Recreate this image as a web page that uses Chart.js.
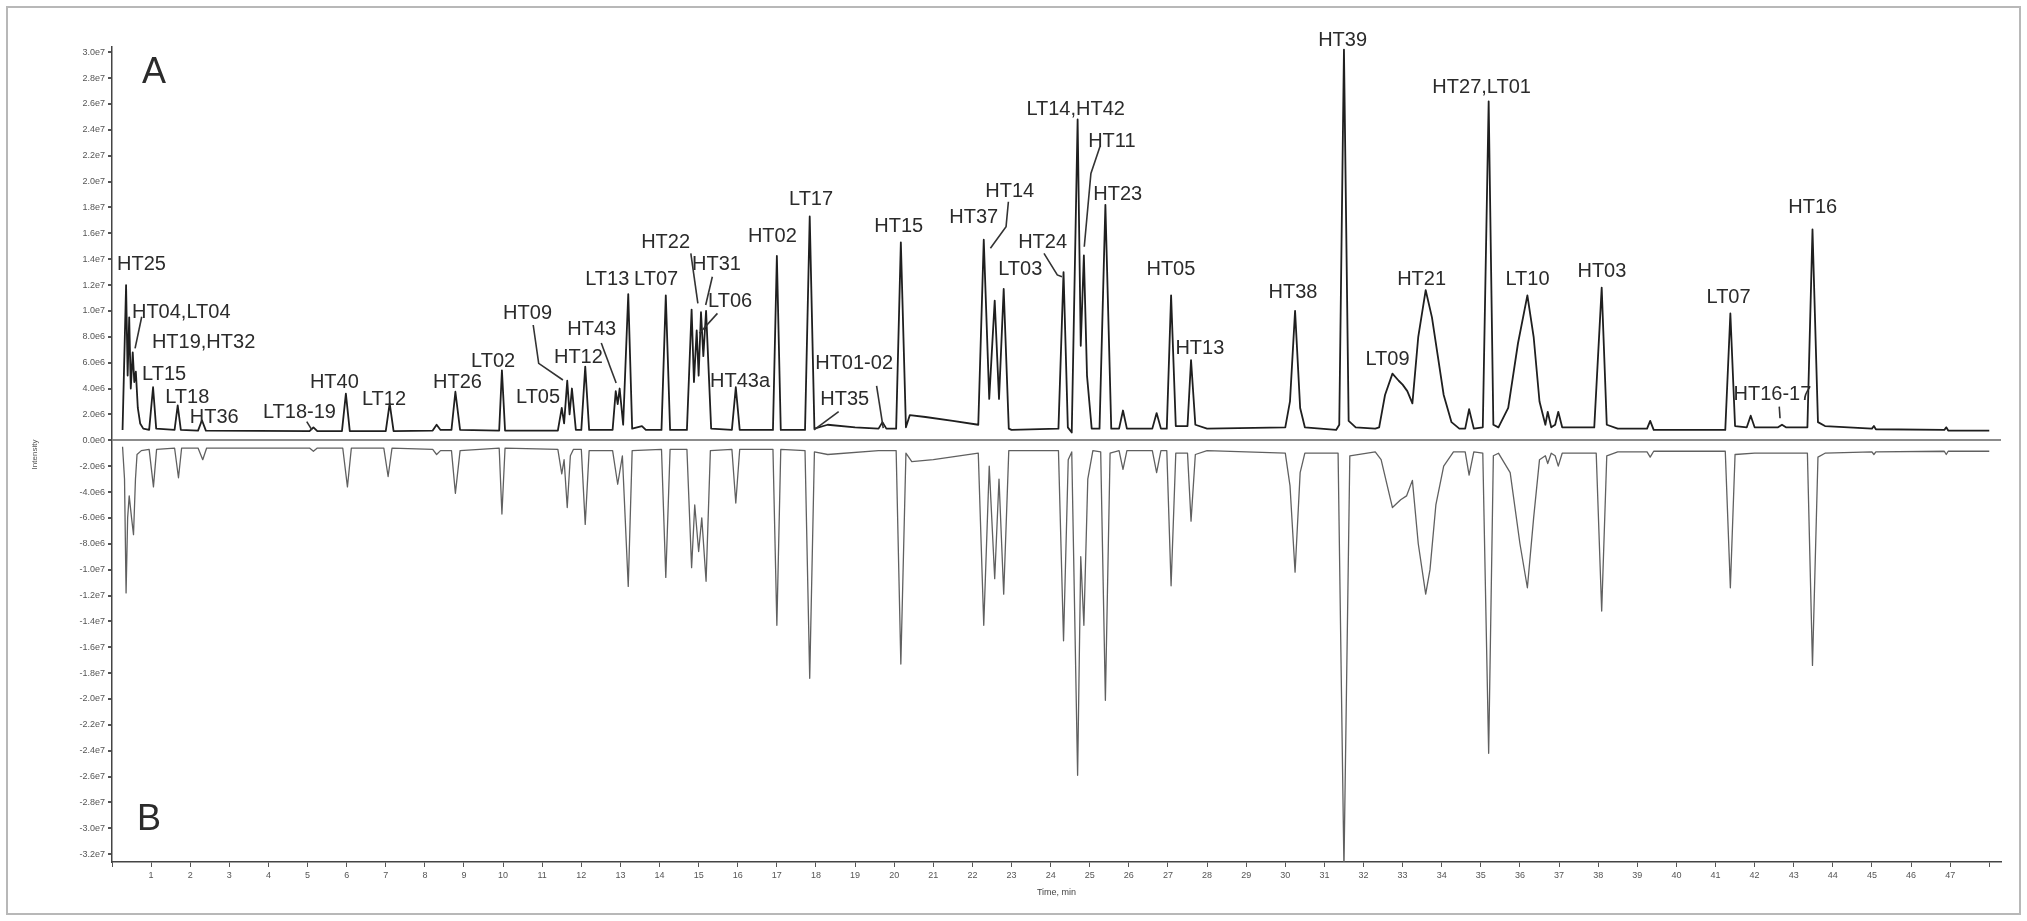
<!DOCTYPE html>
<html>
<head>
<meta charset="utf-8">
<script src="https://cdn.jsdelivr.net/npm/chart.js@4.4.1/dist/chart.umd.min.js"></script>
<style>
  html, body { margin: 0; padding: 0; background: #fff; }
  #wrap { position: relative; width: 2027px; height: 921px; }
</style>
</head>
<body>
<div id="wrap"><canvas id="chrom"></canvas></div>
<script>
// Time in minutes, intensity in units of 1e6 counts
// Trace A (upper)
var traceA = [
  [0.27, 0.8], [0.36, 12.0], [0.40, 5.0], [0.44, 9.5], [0.48, 4.0], [0.53, 6.8], [0.57, 4.5],
  [0.61, 5.3], [0.66, 2.5], [0.72, 1.3], [0.80, 0.9],
  [0.95, 0.8], [1.05, 4.1], [1.13, 0.9], [1.60, 0.8], [1.68, 2.7], [1.76, 0.8],
  [2.20, 0.75], [2.30, 1.55], [2.40, 0.75], [5.05, 0.7], [5.15, 1.0], [5.25, 0.7],
  [5.88, 0.7], [5.98, 3.6], [6.08, 0.7], [7.0, 0.7], [7.1, 2.85], [7.2, 0.7],
  [8.2, 0.75], [8.3, 1.2], [8.4, 0.8], [8.68, 0.8], [8.78, 3.75], [8.9, 0.8],
  [9.9, 0.75], [9.97, 5.4], [10.05, 0.75],
  [11.4, 0.75], [11.5, 2.5], [11.56, 1.3], [11.64, 4.6], [11.7, 2.0], [11.76, 4.0], [11.86, 0.8],
  [12.0, 0.8], [12.1, 5.7], [12.2, 0.8],
  [12.8, 0.8], [12.88, 3.8], [12.93, 2.8], [12.98, 4.0], [13.07, 1.2], [13.2, 11.3], [13.3, 0.9],
  [13.55, 1.1], [13.65, 0.8],
  [14.05, 0.8], [14.16, 11.2], [14.27, 0.8],
  [14.7, 0.8], [14.82, 10.1], [14.88, 4.5], [14.95, 8.5], [15.0, 5.0], [15.06, 9.9], [15.12, 6.5],
  [15.19, 10.0], [15.32, 0.9],
  [15.85, 0.8], [15.95, 4.1], [16.05, 0.8],
  [16.9, 0.8], [17.0, 14.25], [17.1, 0.8],
  [17.72, 0.8], [17.84, 17.3], [17.96, 0.9],
  [18.3, 1.2], [19.0, 1.0], [19.6, 0.9], [19.7, 1.4], [19.8, 0.9],
  [20.05, 0.9], [20.17, 15.3], [20.3, 1.0], [20.4, 1.95], [20.8, 1.8], [21.5, 1.5], [22.15, 1.2],
  [22.29, 15.5], [22.43, 3.2], [22.57, 10.8], [22.68, 3.2], [22.8, 11.7], [22.93, 0.9],
  [23.0, 0.8], [24.2, 0.9], [24.33, 13.0], [24.44, 1.0], [24.54, 0.6],
  [24.69, 24.8], [24.77, 7.3], [24.85, 14.3], [24.93, 5.0], [25.05, 0.9],
  [25.25, 0.9], [25.4, 18.2], [25.55, 0.9],
  [25.75, 0.9], [25.85, 2.3], [25.95, 0.9], [26.6, 0.9], [26.71, 2.1], [26.82, 0.9],
  [26.97, 0.9], [27.08, 11.2], [27.2, 1.1], [27.5, 1.1], [27.59, 6.2], [27.7, 1.2],
  [28.0, 0.9], [30.0, 1.0], [30.12, 3.0], [30.25, 10.0], [30.38, 2.5], [30.5, 1.0],
  [31.3, 0.8], [31.38, 1.2], [31.5, 30.2], [31.62, 1.5], [31.8, 1.0], [32.3, 0.9],
  [32.4, 1.0], [32.55, 3.5], [32.74, 5.15], [32.9, 4.6], [33.0, 4.3], [33.12, 3.8], [33.25, 2.85],
  [33.4, 8.0], [33.59, 11.6], [33.75, 9.5], [33.9, 6.5], [34.05, 3.5], [34.25, 1.4], [34.45, 0.9],
  [34.6, 0.9], [34.7, 2.4], [34.82, 0.9], [35.05, 1.0], [35.2, 26.2], [35.32, 1.2],
  [35.45, 1.0], [35.7, 2.5], [35.95, 7.5], [36.19, 11.2], [36.35, 8.0], [36.5, 3.0], [36.65, 1.2],
  [36.71, 2.2], [36.8, 1.0], [36.9, 1.2], [36.98, 2.2], [37.08, 1.0],
  [37.9, 1.0], [38.09, 11.8], [38.22, 1.2], [38.5, 0.9],
  [39.25, 0.9], [39.33, 1.5], [39.42, 0.8],
  [41.25, 0.8], [41.38, 9.8], [41.5, 1.1], [41.8, 1.0], [41.9, 1.9], [42.0, 1.0],
  [42.6, 1.0], [42.7, 1.2], [42.8, 1.0],
  [43.35, 1.0], [43.48, 16.3], [43.62, 1.4], [43.8, 1.1],
  [45.0, 0.9], [45.05, 1.1], [45.1, 0.85], [46.85, 0.8], [46.9, 1.0], [46.95, 0.75], [48.0, 0.75]
];

// Trace B (lower, mirrored)
var traceB = [
  [0.27, -0.5], [0.32, -3.0], [0.36, -11.8], [0.40, -6.0], [0.44, -4.3], [0.50, -6.0], [0.55, -7.3],
  [0.60, -3.0], [0.64, -1.1], [0.75, -0.8],
  [0.95, -0.7], [1.06, -3.6], [1.14, -0.7], [1.6, -0.6], [1.7, -2.9], [1.78, -0.6],
  [2.2, -0.6], [2.32, -1.5], [2.42, -0.6], [5.05, -0.6], [5.15, -0.85], [5.25, -0.6],
  [5.9, -0.6], [6.02, -3.6], [6.12, -0.6], [6.95, -0.6], [7.06, -2.8], [7.16, -0.6],
  [8.2, -0.7], [8.3, -1.1], [8.4, -0.8], [8.68, -0.8], [8.78, -4.1], [8.9, -0.8],
  [9.9, -0.6], [9.97, -5.7], [10.05, -0.6],
  [11.4, -0.7], [11.5, -2.6], [11.56, -1.5], [11.64, -5.2], [11.72, -1.2], [11.8, -0.7],
  [12.0, -0.7], [12.1, -6.5], [12.2, -0.8],
  [12.8, -0.8], [12.93, -3.4], [13.05, -1.2], [13.2, -11.3], [13.3, -0.8],
  [14.05, -0.7], [14.16, -10.6], [14.27, -0.7],
  [14.7, -0.7], [14.82, -9.85], [14.9, -5.0], [15.0, -8.6], [15.08, -6.0], [15.19, -10.9], [15.3, -0.8],
  [15.85, -0.7], [15.95, -4.85], [16.05, -0.7],
  [16.9, -0.7], [17.0, -14.3], [17.1, -0.7],
  [17.72, -0.8], [17.84, -18.4], [17.96, -0.9], [18.3, -1.1], [19.6, -0.8],
  [20.05, -0.8], [20.17, -17.3], [20.3, -1.0], [20.45, -1.65], [21.0, -1.5], [22.15, -1.0],
  [22.29, -14.3], [22.43, -2.0], [22.57, -10.7], [22.68, -3.0], [22.8, -11.9], [22.93, -0.8],
  [24.2, -0.8], [24.33, -15.5], [24.45, -1.5], [24.54, -0.9],
  [24.69, -25.9], [24.77, -9.0], [24.85, -14.3], [24.95, -3.0], [25.08, -0.8],
  [25.28, -0.9], [25.4, -20.1], [25.52, -1.0],
  [25.75, -0.8], [25.85, -2.25], [25.95, -0.8], [26.6, -0.8], [26.71, -2.5], [26.82, -0.8],
  [26.97, -0.8], [27.08, -11.25], [27.2, -1.0], [27.5, -1.0], [27.59, -6.25], [27.7, -1.1],
  [28.0, -0.8], [30.0, -1.0], [30.12, -3.5], [30.25, -10.2], [30.38, -2.5], [30.5, -1.0],
  [31.35, -1.0], [31.5, -33.0], [31.65, -1.2], [32.3, -0.9],
  [32.45, -1.5], [32.74, -5.2], [32.95, -4.6], [33.1, -4.3], [33.25, -3.1],
  [33.4, -8.0], [33.59, -11.9], [33.7, -10.0], [33.85, -5.0], [34.05, -2.0], [34.3, -0.9],
  [34.6, -0.9], [34.7, -2.7], [34.82, -0.9], [35.05, -1.0], [35.2, -24.2], [35.32, -1.2],
  [35.45, -1.0], [35.75, -2.5], [36.0, -8.0], [36.19, -11.4], [36.35, -6.0], [36.5, -1.5],
  [36.65, -1.2], [36.71, -1.8], [36.8, -1.0], [36.9, -1.2], [36.98, -2.0], [37.08, -1.0],
  [37.95, -1.0], [38.09, -13.2], [38.22, -1.2], [38.5, -0.9],
  [39.25, -0.9], [39.33, -1.3], [39.42, -0.85],
  [41.25, -0.85], [41.38, -11.4], [41.5, -1.1], [42.0, -1.0],
  [43.35, -1.0], [43.48, -17.4], [43.62, -1.3], [43.8, -1.0],
  [45.0, -0.9], [45.05, -1.1], [45.1, -0.9], [46.85, -0.85], [46.9, -1.1], [46.95, -0.85], [48.0, -0.85]
];

// Peak names and where their text sits (time, intensity of the left baseline)
var peakNames = ['HT25', 'HT04,LT04', 'HT19,HT32', 'LT15', 'LT18', 'HT36', 'LT18-19', 'HT40', 'LT12',
  'HT26', 'LT02', 'HT09', 'LT05', 'HT12', 'HT43', 'LT13', 'LT07', 'HT22', 'HT31', 'LT06', 'HT43a',
  'HT02', 'LT17', 'HT01-02', 'HT35', 'HT15', 'HT37', 'HT14', 'HT24', 'LT03', 'LT14,HT42', 'HT11',
  'HT23', 'HT05', 'HT13', 'HT38', 'HT39', 'LT09', 'HT21', 'HT27,LT01', 'LT10', 'HT03', 'LT07',
  'HT16-17', 'HT16'];
var nameTimes = [0.13, 0.51, 1.02, 0.77, 1.36, 1.99, 3.86, 5.06, 6.39,
  8.21, 9.18, 10.0, 10.33, 11.3, 11.64, 12.1, 13.35, 13.53, 14.83, 15.24, 15.29,
  16.26, 17.31, 17.98, 18.11, 19.49, 21.41, 22.33, 23.17, 22.66, 23.38, 24.96,
  25.09, 26.45, 27.19, 29.57, 30.84, 32.05, 32.86, 33.76, 35.63, 37.47, 40.77,
  41.46, 42.86];
var nameLevels = [13.17, 9.45, 7.13, 4.66, 2.88, 1.33, 1.72, 4.04, 2.73,
  4.04, 5.66, 9.37, 2.88, 5.97, 8.14, 12.0, 12.0, 14.86, 13.17, 10.3, 4.12,
  15.32, 18.18, 5.5, 2.73, 16.1, 16.8, 18.8, 14.86, 12.78, 25.14, 22.67,
  18.57, 12.78, 6.67, 11.0, 30.5, 5.82, 12.0, 26.84, 12.0, 12.62, 10.6,
  3.12, 17.57];

// Leader lines from a name to its peak (time, intensity)
var leaders = [
  [[0.76, 9.55], [0.59, 7.11]],
  [[4.98, 1.44], [5.11, 0.8]],
  [[10.77, 8.91], [10.91, 5.95], [11.53, 4.66]],
  [[12.51, 7.52], [12.89, 4.43]],
  [[14.8, 14.45], [14.98, 10.59]],
  [[15.35, 12.64], [15.18, 10.46]],
  [[15.48, 9.81], [15.02, 8.27]],
  [[19.55, 4.2], [19.72, 0.93]],
  [[18.58, 2.21], [17.95, 0.8]],
  [[22.92, 18.44], [22.86, 16.5], [22.46, 14.84]],
  [[23.83, 14.45], [24.17, 12.78], [24.29, 12.64]],
  [[25.26, 22.69], [25.03, 20.63], [24.86, 14.96]],
  [[42.63, 2.6], [42.65, 1.7]]
];

// Panel letters
var panelNames = ['A', 'B'];
var panelTimes = [0.77, 0.64];
var panelLevels = [27.6, -30.1];

function sciLabel(v) {
  var r = Math.round(v * 10) / 10;
  return (r * 1e6).toExponential(1).replace('e+', 'e');
}

var annotate = {
  id: 'annotate',
  beforeDraw: function(chart) {
    var ctx = chart.ctx;
    ctx.save();
    ctx.fillStyle = '#fff';
    ctx.fillRect(0, 0, chart.width, chart.height);
    ctx.strokeStyle = '#b8b8b8';
    ctx.lineWidth = 2;
    ctx.strokeRect(7, 7, chart.width - 14, chart.height - 14);
    ctx.restore();
  },
  afterDatasetsDraw: function(chart) {
    var ctx = chart.ctx, xs = chart.scales.x, ys = chart.scales.y;
    ctx.save();
    ctx.strokeStyle = '#333';
    ctx.lineWidth = 1.6;
    leaders.forEach(function(path) {
      ctx.beginPath();
      path.forEach(function(p, i) {
        var px = xs.getPixelForValue(p[0]), py = ys.getPixelForValue(p[1]);
        if (i) ctx.lineTo(px, py); else ctx.moveTo(px, py);
      });
      ctx.stroke();
    });
    ctx.fillStyle = '#2b2b2b';
    ctx.textAlign = 'left';
    ctx.textBaseline = 'alphabetic';
    ctx.font = '20px "Liberation Sans", Arial, sans-serif';
    peakNames.forEach(function(name, i) {
      ctx.fillText(name, xs.getPixelForValue(nameTimes[i]), ys.getPixelForValue(nameLevels[i]));
    });
    ctx.font = '36px "Liberation Sans", Arial, sans-serif';
    panelNames.forEach(function(name, i) {
      ctx.fillText(name, xs.getPixelForValue(panelTimes[i]), ys.getPixelForValue(panelLevels[i]));
    });
    ctx.restore();
  }
};

var tickFont = { family: '"Liberation Sans", Arial, sans-serif', size: 9 };

new Chart(document.getElementById('chrom'), {
  type: 'line',
  data: {
    datasets: [{
      label: 'A',
      data: traceA.map(function(p) { return { x: p[0], y: p[1] }; }),
      borderColor: '#1f1f1f',
      borderWidth: 1.8,
      borderJoinStyle: 'round',
      pointRadius: 0,
      tension: 0,
      fill: false
    }, {
      label: 'B',
      data: traceB.map(function(p) { return { x: p[0], y: p[1] }; }),
      borderColor: '#606060',
      borderWidth: 1.3,
      borderJoinStyle: 'round',
      pointRadius: 0,
      tension: 0,
      fill: false
    }]
  },
  options: {
    responsive: true,
    maintainAspectRatio: false,
    animation: false,
    layout: { padding: { left: 0, right: 26, top: 47, bottom: 0 } },
    plugins: { legend: { display: false }, tooltip: { enabled: false } },
    scales: {
      x: {
        type: 'linear',
        min: 0,
        max: 48.3,
        afterFit: function(s) { s.height = 59; },
        border: { display: true, color: '#444', width: 1.5 },
        grid: { drawOnChartArea: false, tickColor: '#555', tickLength: 5 },
        ticks: {
          stepSize: 1,
          includeBounds: false,
          autoSkip: false,
          maxRotation: 0,
          padding: 3,
          color: '#555',
          font: tickFont,
          callback: function(v) { return (v >= 1 && v <= 47) ? String(v) : ''; }
        },
        title: { display: true, text: 'Time, min', color: '#444', font: tickFont, padding: { top: 0, bottom: 23 } }
      },
      y: {
        type: 'linear',
        min: -32.6,
        max: 30.4,
        afterFit: function(s) { s.width = 112; },
        border: { display: true, color: '#444', width: 1.5 },
        grid: {
          drawOnChartArea: true,
          lineWidth: 2,
          color: function(c) { return (c.tick && Math.abs(c.tick.value) < 1e-6) ? '#8c8c8c' : 'rgba(0,0,0,0)'; },
          tickColor: '#555',
          tickLength: 4
        },
        ticks: {
          stepSize: 2,
          includeBounds: false,
          autoSkip: false,
          padding: 3,
          color: '#555',
          font: tickFont,
          callback: function(v) { return sciLabel(v); }
        },
        title: { display: true, text: 'Intensity', color: '#555', font: { family: '"Liberation Sans", Arial, sans-serif', size: 8 }, padding: { top: 30, bottom: 0 } }
      }
    }
  },
  plugins: [annotate]
});
</script>
</body>
</html>
